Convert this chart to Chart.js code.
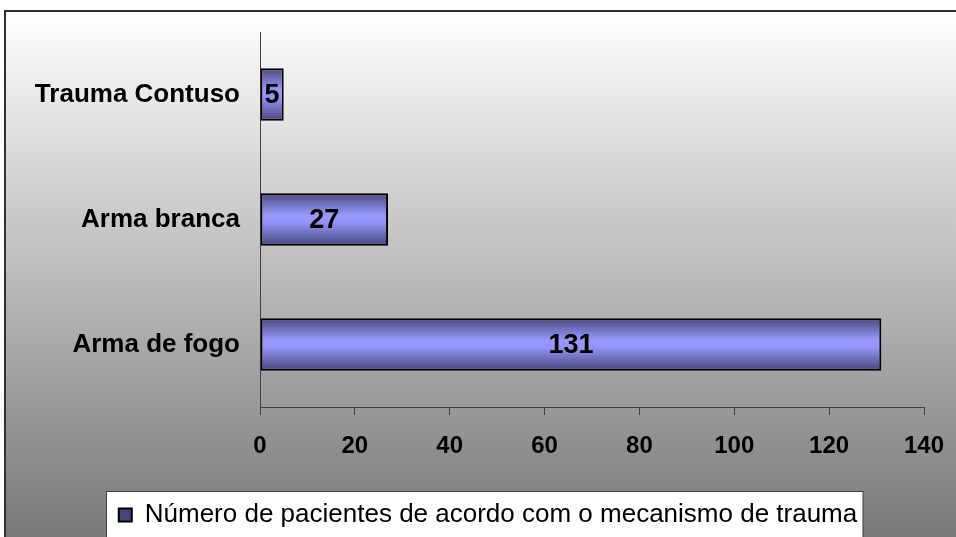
<!DOCTYPE html>
<html>
<head>
<meta charset="utf-8">
<script src="https://cdn.jsdelivr.net/npm/chart.js@4.4.0/dist/chart.umd.min.js"></script>
<style>
  html, body { margin: 0; padding: 0; background: #fff; }
  #wrap { width: 956px; height: 537px; }
</style>
</head>
<body>
<div id="wrap"><canvas id="chart" width="956" height="537"></canvas></div>
<script>
// data
var categories = ["Trauma Contuso", "Arma branca", "Arma de fogo"];
var patients = [5, 27, 131];
var seriesName = "Número de pacientes de acordo com o mecanismo de trauma";
var xTicks = [0, 20, 40, 60, 80, 100, 120, 140];

var font = "'Liberation Sans', Arial, sans-serif";

// gradient background, outer frame and white legend box
var backdrop = {
    id: 'backdrop',
    afterLayout: function(chart) {
        // legend sits a little right of the canvas centre and a bit lower
        var lg = chart.legend;
        var dx = 488 - (lg.left + lg.right) / 2;
        lg.left += dx; lg.right += dx;
        lg.top += 3; lg.bottom += 3;
    },
    beforeDraw: function(chart) {
        var c = chart.ctx;
        c.save();
        var g = c.createLinearGradient(0, 10, 0, 537);
        g.addColorStop(0, '#ffffff');
        g.addColorStop(1, '#787878');
        c.fillStyle = g;
        c.fillRect(4, 10, 960, 540);
        c.strokeStyle = '#303030';
        c.lineWidth = 2;
        c.strokeRect(5, 11, 960, 540);

        var hb = chart.legend && chart.legend.legendHitBoxes[0];
        if (hb) {
            var bx = Math.round(hb.left) - 12.5, by = Math.round(hb.top + hb.height / 2) - 23.5;
            c.fillStyle = '#ffffff';
            c.fillRect(bx, by, hb.width + 18, 80);
            c.strokeStyle = '#404040';
            c.lineWidth = 1;
            c.strokeRect(bx, by, hb.width + 18, 80);
        }
        c.restore();
    }
};

// numbers printed inside the bars
var barLabels = {
    id: 'barLabels',
    afterDatasetsDraw: function(chart) {
        var c = chart.ctx;
        var meta = chart.getDatasetMeta(0);
        c.save();
        c.font = 'bold 27px ' + font;
        c.fillStyle = '#000';
        c.textAlign = 'center';
        c.textBaseline = 'middle';
        meta.data.forEach(function(bar, i) {
            c.fillText(String(patients[i]), (bar.x + bar.base) / 2, bar.y + 1);
        });
        c.restore();
    }
};

function barFill(ctx) {
    var chart = ctx.chart;
    if (ctx.type !== 'data' || !chart.scales.y) return '#9999ff';
    var y = chart.scales.y.getPixelForValue(ctx.dataIndex);
    if (!isFinite(y)) return '#9999ff';
    var g = chart.ctx.createLinearGradient(0, y - 26, 0, y + 26);
    g.addColorStop(0, '#4a4a7e');
    g.addColorStop(0.42, '#9999ff');
    g.addColorStop(0.55, '#9595f8');
    g.addColorStop(1, '#46467a');
    return g;
}

var ctx = document.getElementById("chart").getContext('2d');
var myBarChart = new Chart(ctx, {
    type: 'bar',
    data: {
        labels: categories,
        datasets: [{
            label: seriesName,
            data: patients,
            backgroundColor: barFill,
            borderColor: '#000000',
            borderWidth: 2,
            borderSkipped: false,
            categoryPercentage: 1,
            barPercentage: 0.42
        }]
    },
    options: {
        indexAxis: 'y',
        responsive: false,
        animation: false,
        layout: { padding: { left: 0, right: 32, top: 32, bottom: 2 } },
        scales: {
            x: {
                min: 0,
                max: 140,
                afterBuildTicks: function(scale) {
                    scale.ticks = xTicks.map(function(v) { return { value: v }; });
                },
                afterFit: function(scale) {
                    scale.height = 82;
                    scale.paddingLeft = 0;
                    scale.paddingRight = 0;
                },
                grid: { drawOnChartArea: false, drawTicks: true, tickLength: 8, color: '#404040', lineWidth: 1 },
                border: { display: true, color: '#404040', width: 1 },
                ticks: { color: '#000', padding: 17, font: { family: font, size: 24, weight: 'bold' } }
            },
            y: {
                afterFit: function(scale) {
                    scale.width = 260;
                    scale.paddingTop = 0;
                    scale.paddingBottom = 0;
                },
                grid: { display: false, drawTicks: false },
                border: { display: true, color: '#404040', width: 1 },
                ticks: { color: '#000', padding: 20, font: { family: font, size: 26, weight: 'bold' } }
            }
        },
        plugins: {
            legend: {
                position: 'bottom',
                labels: {
                    color: '#000',
                    boxWidth: 13,
                    boxHeight: 13,
                    padding: 10,
                    font: { family: font, size: 26 }
                }
            },
            tooltip: { enabled: false }
        }
    },
    plugins: [backdrop, barLabels]
});
</script>
</body>
</html>
